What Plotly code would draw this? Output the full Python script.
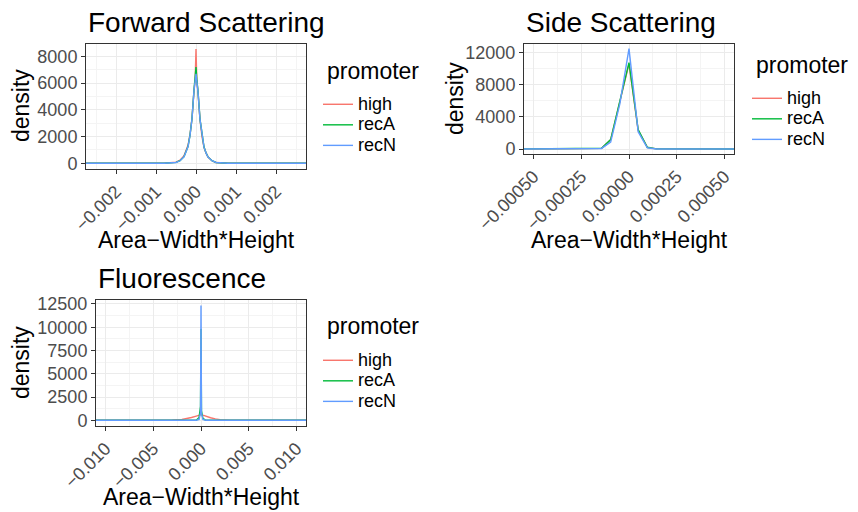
import plotly.graph_objects as go

W, H = 858, 512
FONT = "Liberation Sans"

promoters = ["high", "recA", "recN"]
colors = ["#F8766D", "#00BA38", "#619CFF"]

# ---- Forward Scattering ----
fsc_x = [-0.003, -0.0008, -0.0005, -0.0004, -0.0003, -0.00025, -0.0002, -0.00015, -0.0001,
         -0.00005, -0.00002, 0.0, 0.00002, 0.00005, 0.0001, 0.00015, 0.0002, 0.00025,
         0.0003, 0.0004, 0.0005, 0.0008, 0.003]
fsc_high = [0, 5, 90, 230, 560, 900, 1350, 2150, 3350, 5400, 6300, 8550, 6200, 5300, 3250, 2000, 1200, 780, 470, 190, 60, 5, 0]
fsc_recA = [0, 5, 70, 200, 500, 820, 1250, 2100, 3350, 5500, 6400, 7200, 6300, 5400, 3300, 2050, 1220, 790, 480, 200, 65, 5, 0]
fsc_recN = [0, 5, 65, 190, 490, 800, 1230, 2080, 3330, 5450, 6200, 6700, 6150, 5350, 3280, 2030, 1210, 780, 470, 195, 62, 5, 0]

# ---- Side Scattering ----
ssc_x = [-0.0006, -0.000192, -0.000144, -0.000096, -0.000048, 0.0, 0.000048, 0.000096, 0.000144, 0.000192, 0.0006]
ssc_high = [0, 0, 80, 1150, 5900, 10550, 2300, 200, 10, 0, 0]
ssc_recA = [0, 0, 90, 1170, 6000, 10700, 2400, 210, 10, 0, 0]
ssc_recN = [0, 0, 70, 850, 5600, 12450, 2150, 150, 5, 0, 0]

# ---- Fluorescence ----
fl_x = [-0.012, -0.004, -0.003, -0.002, -0.0015, -0.001, -0.0005, -0.0002, -0.00005, 0.0,
        0.00005, 0.0002, 0.0005, 0.001, 0.0015, 0.002, 0.003, 0.004, 0.012]
fl_high = [0, 5, 25, 90, 170, 300, 450, 560, 610, 620, 610, 550, 430, 270, 150, 70, 15, 3, 0]
fl_recA = [0, 0, 0, 0, 0, 0, 0, 300, 1500, 9800, 1000, 200, 0, 0, 0, 0, 0, 0, 0]
fl_recN = [0, 0, 0, 0, 0, 0, 0, 100, 800, 12350, 800, 100, 0, 0, 0, 0, 0, 0, 0]

legend_title = "promoter"

panels = [
    dict(x=fsc_x, ys=[fsc_high, fsc_recA, fsc_recN], xa="x", ya="y", legend="legend"),
    dict(x=ssc_x, ys=[ssc_high, ssc_recA, ssc_recN], xa="x2", ya="y2", legend="legend2"),
    dict(x=fl_x, ys=[fl_high, fl_recA, fl_recN], xa="x3", ya="y3", legend="legend3"),
]

fig = go.Figure()
for p in panels:
    for name, col, ys in zip(promoters, colors, p["ys"]):
        fig.add_trace(go.Scatter(
            x=p["x"], y=ys, mode="lines",
            name='<span style="font-size:18px">%s</span>' % name,
            line=dict(color=col, width=1.4),
            xaxis=p["xa"], yaxis=p["ya"], legend=p["legend"],
        ))


def px_x(a, b):
    return [a / W, b / W]


def px_y(top, bottom):
    return [1 - bottom / H, 1 - top / H]


common = dict(
    automargin=False,
    showline=True, mirror=True, linecolor="#333333", linewidth=1,
    ticks="outside", ticklen=4, tickwidth=1, tickcolor="#333333",
    showgrid=True, gridcolor="#EBEBEB", gridwidth=1.1, zeroline=False,
    tickfont=dict(family=FONT, size=18, color="#4D4D4D"),
)


def minor(d):
    return dict(dtick=d, tick0=0, showgrid=True, gridcolor="#F4F4F4", gridwidth=0.6)


fig.update_layout(
    width=W, height=H, margin=dict(l=0, r=0, t=0, b=0, autoexpand=False),
    paper_bgcolor="white", plot_bgcolor="white",
    font=dict(family=FONT, color="black"),
    xaxis=dict(domain=px_x(86, 306), range=[-0.00275, 0.00275], anchor="y",
               tick0=0, dtick=0.001, tickformat=".3f", tickangle=-45,
               minor=minor(0.0005), **common),
    yaxis=dict(domain=px_y(44, 169), range=[-425, 8925], anchor="x",
               tick0=0, dtick=2000, tickformat="d", minor=minor(1000), **common),
    xaxis2=dict(domain=px_x(524, 734), range=[-0.00055, 0.00055], anchor="y2",
                tick0=0, dtick=0.00025, tickformat=".5f", tickangle=-45,
                minor=minor(0.000125), **common),
    yaxis2=dict(domain=px_y(44, 154), range=[-620, 13020], anchor="x2",
                tick0=0, dtick=4000, tickformat="d", minor=minor(2000), **common),
    xaxis3=dict(domain=px_x(96, 306), range=[-0.011, 0.011], anchor="y3",
                tick0=0, dtick=0.005, tickformat=".3f", tickangle=-45,
                minor=minor(0.0025), **common),
    yaxis3=dict(domain=px_y(300, 426), range=[-616, 12928], anchor="x3",
                tick0=0, dtick=2500, tickformat="d", minor=minor(1250), **common),
)

leg_common = dict(
    xanchor="left", yanchor="top", bgcolor="rgba(0,0,0,0)",
    font=dict(family=FONT, size=13.5, color="black"),
)
fig.update_layout(
    legend=dict(x=318 / W, y=1 - 89 / H, **leg_common),
    legend2=dict(x=747 / W, y=1 - 83 / H, **leg_common),
    legend3=dict(x=318 / W, y=1 - 345 / H, **leg_common),
)

# legend titles
for x, y in [(325, 71), (754, 65), (325, 326)]:
    fig.add_annotation(text=legend_title, x=x / W, y=1 - y / H, xref="paper", yref="paper",
                       xanchor="left", yanchor="middle", showarrow=False,
                       font=dict(family=FONT, size=23, color="black"))

titles = [("Forward Scattering", 86, 22), ("Side Scattering", 524, 22), ("Fluorescence", 96, 278)]
for t, x, y in titles:
    fig.add_annotation(text=t, x=x / W, y=1 - y / H, xref="paper", yref="paper",
                       xanchor="left", yanchor="middle", showarrow=False,
                       font=dict(family=FONT, size=28, color="black"))

xtitles = [(196, 240), (629, 240), (201, 497)]
for x, y in xtitles:
    fig.add_annotation(text="Area\u2212Width*Height", x=x / W, y=1 - y / H, xref="paper", yref="paper",
                       xanchor="center", yanchor="middle", showarrow=False,
                       font=dict(family=FONT, size=23, color="black"))

ytitles = [(21, 106), (455, 99), (21, 363)]
for x, y in ytitles:
    fig.add_annotation(text="density", x=x / W, y=1 - y / H, xref="paper", yref="paper",
                       xanchor="center", yanchor="middle", showarrow=False, textangle=-90,
                       font=dict(family=FONT, size=23, color="black"))

fig.write_html("out.html")
